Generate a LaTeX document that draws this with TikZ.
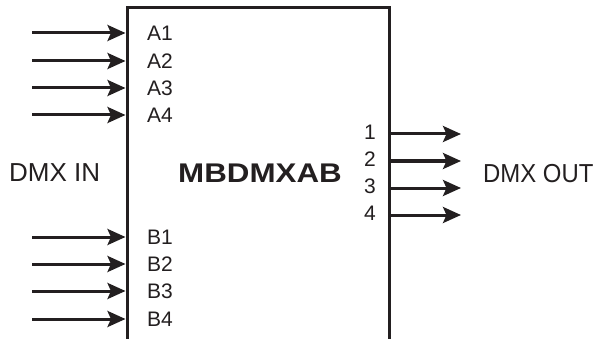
\documentclass[tikz,border=0pt]{standalone}
\usepackage{fontspec}
\setmainfont{Liberation Sans}
\usetikzlibrary{arrows.meta}
\definecolor{ink}{HTML}{231F20}
\begin{document}
\begin{tikzpicture}[x=1pt,y=-1pt,
  arr/.style={draw=ink,line width=3pt,-{Stealth[length=18pt,width=16pt,inset=3.5pt]}},
  pin/.style={font=\fontsize{21}{21}\selectfont,text=ink,inner sep=0pt},
  big/.style={font=\fontsize{26}{26}\selectfont,text=ink,inner sep=0pt}]
\clip (0,0) rectangle (604,339);
\fill[white] (0,0) rectangle (604,339);
\node[draw=ink,line width=3pt,minimum width=262pt,minimum height=340pt,inner sep=0pt] (box) at (258,178) {};
% inputs
\foreach \n/\y in {A1/33,A2/61,A3/88,A4/115,B1/237,B2/264,B3/291,B4/319}{
  \coordinate (s\n) at (32,\y);
  \draw[arr] (s\n) -- (s\n -| box.west);
  \node[pin,anchor=west] (l\n) at (147,\y) {\n};
}
% outputs
\foreach \n/\y in {1/134,2/161,3/188,4/215}{
  \coordinate (e\n) at (461,\y);
  \draw[arr] (e\n -| box.east) -- (e\n);
  \node[pin,anchor=east] (o\n) at (376,\y-2) {\n};
}
\node[font=\fontsize{27}{27}\selectfont\bfseries,text=ink,inner sep=0pt] (title) at (260,173) {\scalebox{1.16}[1]{MBDMXAB}};
\node[big,anchor=west] (din) at (9,173) {DMX IN};
\node[big,anchor=west] (dout) at (483,174) {\scalebox{0.92}[1]{DMX OUT}};
\end{tikzpicture}
\end{document}
